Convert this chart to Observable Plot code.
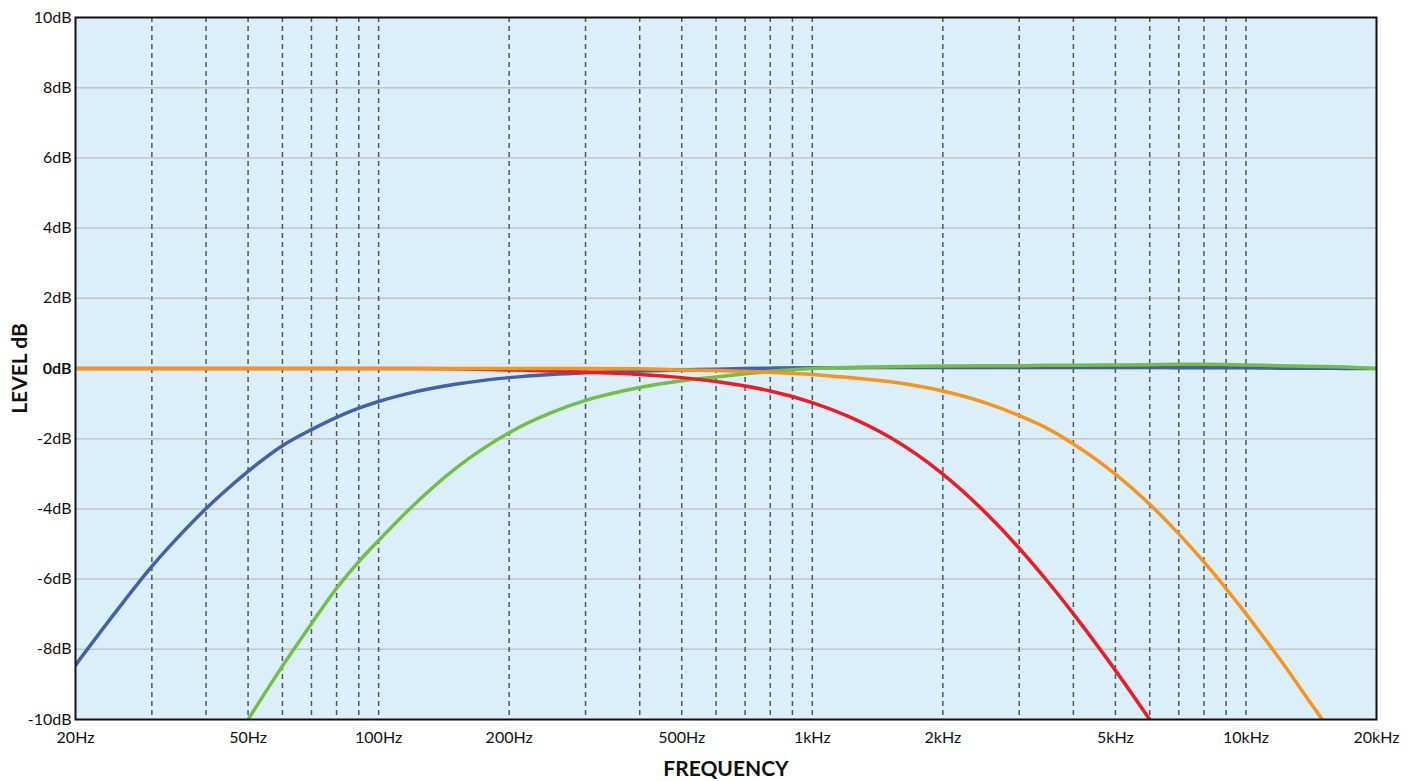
<!DOCTYPE html>
<html>
<head>
<meta charset="utf-8">
<script src="https://cdn.jsdelivr.net/npm/d3@7"></script>
<script src="https://cdn.jsdelivr.net/npm/@observablehq/plot@0.6"></script>
<style>
  html, body { margin: 0; padding: 0; background: #fff; }
  #chart svg { display: block; }
</style>
</head>
<body>
<div id="chart"></div>
<script>
// Frequencies (Hz) at which the curves were read
const freqs = [20,25,30,35,40,45,50,60,70,80,90,100,120,150,200,250,300,400,500,600,700,800,1000,1200,1500,2000,2500,3000,3500,4000,5000,6000,7000,8000,10000,12000,15000,17000,20000];

// Levels (dB)
const highPass50Db  = [-8.45,-6.87,-5.64,-4.72,-3.99,-3.41,-2.93,-2.2,-1.74,-1.39,-1.13,-0.94,-0.68,-0.45,-0.26,-0.17,-0.12,-0.07,-0.04,-0.02,0,0.01,0.02,0.02,0.03,0.03,0.03,0.03,0.03,0.03,0.03,0.03,0.02,0.02,0.02,0.01,0.01,0.0,0.0];
const highPass150Db = [-14,-13.4,-12.8,-12.2,-11.7,-10.9,-10.0,-8.48,-7.27,-6.26,-5.5,-4.9,-3.91,-2.86,-1.83,-1.26,-0.91,-0.54,-0.35,-0.24,-0.15,-0.08,0.0,0.03,0.05,0.07,0.08,0.08,0.09,0.09,0.1,0.11,0.12,0.12,0.1,0.08,0.06,0.04,0.0];
const lowPass2kDb   = [0,0,0,0,0,0,0,0,0,0,0,0,0,-0.01,-0.04,-0.07,-0.1,-0.17,-0.26,-0.37,-0.5,-0.64,-0.97,-1.34,-1.94,-3.01,-4.09,-5.12,-6.09,-6.99,-8.6,-10.0,-11.2,-12.3,-14,-15,-17,-18,-20];
const lowPass5kDb   = [0,0,0,0,0,0,0,0,0,0,0,0,0,0,0,0,0,-0.01,-0.04,-0.06,-0.08,-0.11,-0.17,-0.25,-0.37,-0.64,-0.97,-1.34,-1.72,-2.15,-3.01,-3.87,-4.71,-5.51,-6.99,-8.3,-10.0,-10.9,-12.3];

const seriesNames  = ["HP 50Hz","HP 150Hz","LP 2kHz","LP 5kHz"];
const seriesColors = ["#4160ad","#72bf44","#ed1c24","#f7941d"];
const seriesValues = [highPass50Db, highPass150Db, lowPass2kDb, lowPass5kDb];

// Axis ticks
const xTicks = [20,50,100,200,500,1000,2000,5000,10000,20000];
const xTickLabels = ["20Hz","50Hz","100Hz","200Hz","500Hz","1kHz","2kHz","5kHz","10kHz","20kHz"];
const yTicks = [-10,-8,-6,-4,-2,0,2,4,6,8,10];
const yTickLabels = ["-10dB","-8dB","-6dB","-4dB","-2dB","0dB","2dB","4dB","6dB","8dB","10dB"];
const yGrid = [-8,-6,-4,-2,0,2,4,6,8];
const xGrid = [30,40,50,60,70,80,90,100,200,300,400,500,600,700,800,900,1000,2000,3000,4000,5000,6000,7000,8000,9000,10000];

const data = [];
seriesNames.forEach((s, i) => {
  freqs.forEach((f, j) => data.push({series: s, f, db: seriesValues[i][j]}));
});

const xLabelData = xTicks.map((v, i) => ({v, label: xTickLabels[i]}));
const yLabelData = yTicks.map((v, i) => ({v, label: yTickLabels[i], bold: v === 0}));

const font = "Lato, 'DejaVu Sans', sans-serif";

const chart = Plot.plot({
  width: 1418,
  height: 781,
  marginLeft: 75,
  marginRight: 42,
  marginTop: 17,
  marginBottom: 62,
  style: {fontFamily: font, fontSize: "16px", color: "#111", background: "#fff"},
  x: {type: "log", domain: [20, 20000], axis: null},
  y: {domain: [-10, 10], axis: null},
  color: {domain: seriesNames, range: seriesColors},
  marks: [
    Plot.frame({fill: "#dbeffa", stroke: null}),
    Plot.ruleY(yGrid, {stroke: "#c4c4c4", strokeWidth: 1.5}),
    Plot.ruleX(xGrid, {stroke: "#555", strokeWidth: 1.5, strokeDasharray: "5,4"}),
    Plot.line(data, {x: "f", y: "db", z: "series", stroke: "series", strokeWidth: 3.5, curve: "monotone-x", clip: true}),
    Plot.frame({stroke: "#111", strokeWidth: 2}),
    Plot.text(xLabelData, {x: "v", text: "label", frameAnchor: "bottom", dy: 23, fontSize: 16, fill: "#111"}),
    Plot.text(yLabelData.filter(d => !d.bold), {y: "v", text: "label", frameAnchor: "left", textAnchor: "end", dx: -4, fontSize: 16, fill: "#111"}),
    Plot.text(yLabelData.filter(d => d.bold), {y: "v", text: "label", frameAnchor: "left", textAnchor: "end", dx: -4, fontSize: 16, fontWeight: "bold", fill: "#111"}),
    Plot.text(["FREQUENCY"], {frameAnchor: "bottom", dy: 56, fontWeight: "bold", fontSize: 21, fill: "#111"}),
    Plot.text(["LEVEL dB"], {frameAnchor: "left", textAnchor: "middle", dx: -55, rotate: -90, fontWeight: "bold", fontSize: 21, fill: "#111"})
  ]
});

document.getElementById("chart").appendChild(chart);
</script>
</body>
</html>
